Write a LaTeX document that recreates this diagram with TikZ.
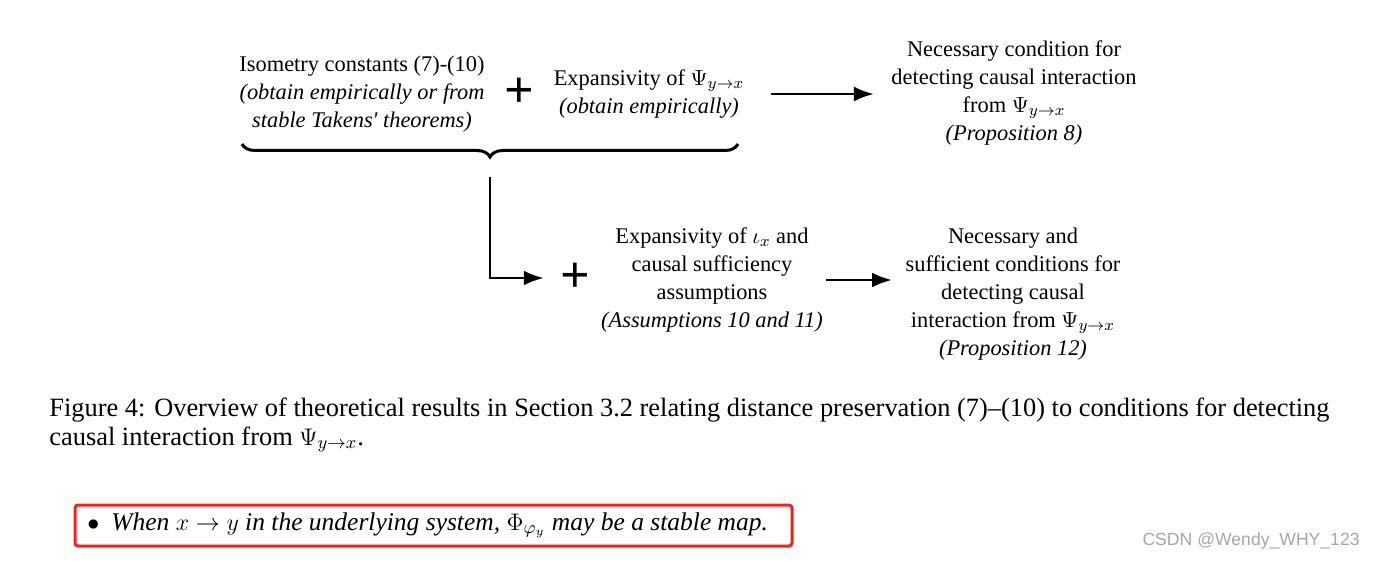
\documentclass[tikz,border=0pt]{standalone}
\usepackage{amsmath,amssymb}
\usepackage{fontspec}
\setmainfont{Liberation Serif}
\newfontfamily\marksans{Liberation Sans}
\usepackage{tikz}
\usetikzlibrary{arrows.meta,decorations.pathreplacing}
\definecolor{boxred}{RGB}{252,28,28}

\begin{document}
\begin{tikzpicture}[x=0.5pt,y=-0.5pt,
  txt/.style={align=center,font=\fontsize{11.2}{14}\selectfont},
  plus/.style={inner sep=0pt,font=\fontsize{26}{26}\selectfont\bfseries},
  arr/.style={line width=1.4pt,-{Latex[length=10pt,width=7.5pt]}},
  captxt/.style={anchor=base west,inner sep=0pt,font=\fontsize{13.2}{14.5}\selectfont}]
\useasboundingbox (0,0) rectangle (1375,561);
\node[txt] (iso) at (362,94) {Isometry constants (7)-(10)\\ \textit{(obtain empirically or from}\\ \textit{stable Takens\textquotesingle{} theorems)}};
\node[plus] (p1) at (519,93) {+};
\node[txt] (expa) at (649,94) {Expansivity of $\Psi_{y\to x}$\\ \textit{(obtain empirically)}};
\node[txt] (cond1) at (1014,93) {Necessary condition for\\ detecting causal interaction\\ from $\Psi_{y\to x}$\\ \textit{(Proposition 8)}};
\coordinate (bl) at (242,144);
\coordinate (br) at (738,144);
\coordinate (tip) at (490,177);
\draw[line width=1.5pt,decorate,decoration={brace,mirror,amplitude=6.5pt}] (bl) -- (br);
\draw[arr] ([xshift=9.75pt]expa.east) -- ([xshift=-5.25pt]cond1.west |- expa.east);
\node[plus] (p2) at (575,278) {+};
\node[txt] (assum) at (712,280) {Expansivity of $\iota_x$ and\\ causal sufficiency\\ assumptions\\ \textit{(Assumptions 10 and 11)}};
\node[txt] (cond2) at (1013,294) {Necessary and\\ sufficient conditions for\\ detecting causal\\ interaction from $\Psi_{y\to x}$\\ \textit{(Proposition 12)}};
\draw[arr] (tip) |- ([xshift=-8pt]p2.west);
\draw[arr] ([xshift=-1.75pt]assum.east) -- ([xshift=-3.25pt]cond2.west |- assum.east);
\node[captxt] (cap1) at (49,416) {Figure 4: Overview of theoretical results in Section 3.2 relating distance preservation (7)--(10) to conditions for detecting};
\node[captxt] (cap2) at (49,445) {causal interaction from $\Psi_{y\to x}$.};
\draw[boxred,line width=1.5pt,rounded corners=1.5pt] (75,505) rectangle (792,546);
\node[captxt] (bul) at (87,530) {$\bullet$};
\node[captxt,font=\fontsize{12.75}{14.5}\selectfont\itshape] (note) at (111,530) {When $x\to y$ in the underlying system, $\Phi_{\varphi_y}$ may be a stable map.};
\node[anchor=east,inner sep=0pt,text=gray!70,font=\marksans\fontsize{8.8}{10}\selectfont] (mark) at (1360,541) {CSDN @Wendy\_WHY\_123};
\end{tikzpicture}
\end{document}
